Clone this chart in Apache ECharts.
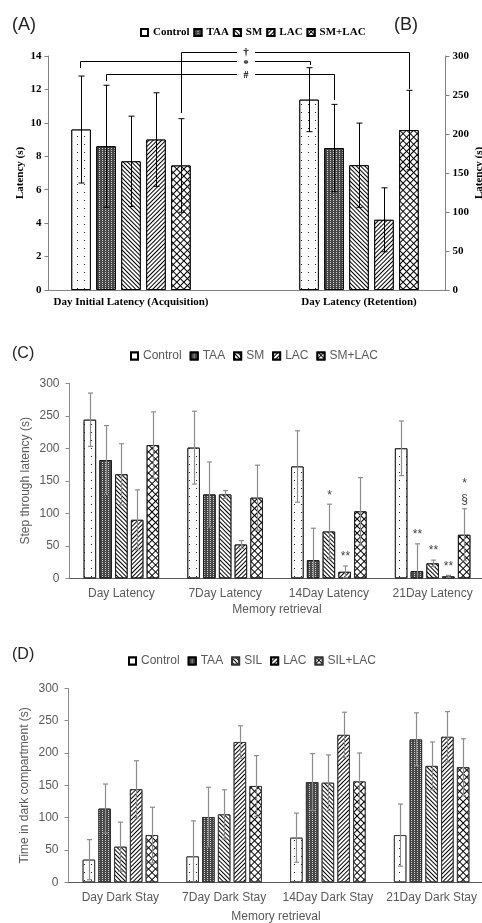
<!DOCTYPE html>
<html>
<head>
<meta charset="utf-8">
<script src="https://cdn.jsdelivr.net/npm/echarts@6/dist/echarts.min.js"></script>
<style>
html, body { margin: 0; padding: 0; background: #fff; }
#chart { width: 482px; height: 923px; }
</style>
</head>
<body>
<div id="chart"></div>
<script>
// group names
var groupNames = ['Control', 'TAA', 'SM', 'LAC', 'SM+LAC'];
var groupNamesD = ['Control', 'TAA', 'SIL', 'LAC', 'SIL+LAC'];

// (A)/(B) acquisition (left axis) and retention (right axis)
var acqCategory = ['Day Initial Latency (Acquisition)'];
var retCategory = ['Day Latency (Retention)'];
var acqMean = [9.6, 8.6, 7.7, 9.0, 7.45];
var acqSd = [3.2, 3.65, 2.7, 2.8, 2.8];
var retMean = [244, 182, 160, 90, 205];
var retSd = [41, 56, 54, 41, 51];

// (C) step through latency, one row per group
var cCats = ['Day Latency', '7Day Latency', '14Day Latency', '21Day Latency'];
var cMeans = [
  [244, 201, 172, 200],
  [182, 129, 28, 11],
  [160, 129, 72, 23],
  [90, 52, 10, 3],
  [205, 124, 103, 67]
];
var cSds = [
  [41, 56, 55, 42],
  [53, 50, 49, 42],
  [47, 6, 42, 5],
  [46, 6, 9, 1.5],
  [51, 50, 52, 40]
];
var cMarks = [
  ['', '', '', ''],
  ['', '', '', '**'],
  ['', '', '*', '**'],
  ['', '', '**', '**'],
  ['', '', '', '*\n§']
];

// (D) time in dark compartment
var dCats = ['Day Dark Stay', '7Day Dark Stay', '14Day Dark Stay', '21Day Dark Stay'];
var dMeans = [
  [35, 40, 69, 73],
  [114, 101, 155, 221],
  [55, 105, 154, 180],
  [144, 217, 228, 225],
  [73, 149, 156, 178]
];
var dSds = [
  [31, 55, 38, 48],
  [38, 46, 44, 41],
  [38, 38, 43, 37],
  [44, 25, 35, 39],
  [43, 47, 44, 44]
];

var SERIF = '"Liberation Serif", "Times New Roman", serif';
var SANS = '"Liberation Sans", Arial, sans-serif';

// fill patterns, one per group
var decals = [
  { symbol: 'rect', symbolSize: 1, color: '#222', backgroundColor: '#fff', dashArrayX: [1, 6], dashArrayY: [1, 7] },
  { symbol: 'rect', symbolSize: 1, color: '#d0d0d0', backgroundColor: '#474747', dashArrayX: [1, 2], dashArrayY: [1, 1] },
  { symbol: 'rect', symbolSize: 1, color: '#000', backgroundColor: '#fff', dashArrayX: [1, 0], dashArrayY: [1, 2], rotation: Math.PI / 4 },
  { symbol: 'rect', symbolSize: 1, color: '#000', backgroundColor: '#fff', dashArrayX: [1, 0], dashArrayY: [1, 2], rotation: -Math.PI / 4 },
  { symbol: 'rect', symbolSize: 1, color: '#fff', backgroundColor: '#000', dashArrayX: [4, 1], dashArrayY: [4, 1], rotation: Math.PI / 4 }
];

function bar(name, xi, yi, values, k, bw, gap, border) {
  return {
    type: 'bar', name: name, xAxisIndex: xi, yAxisIndex: yi, data: values,
    barWidth: bw, barGap: gap, z: 2,
    itemStyle: { color: '#fff', borderColor: border, borderWidth: 1, decal: decals[k] },
    emphasis: { disabled: true }
  };
}

// error bars (mean +/- sd) drawn over the bars
function errBars(xi, yi, means, sds, slot, pitch, cap, color, lw, marks) {
  var data = means.map(function (m, i) { return [i, m, sds[i]]; });
  return {
    type: 'custom', xAxisIndex: xi, yAxisIndex: yi, z: 5, silent: true,
    data: data, encode: { x: 0, y: 1 },
    renderItem: function (params, api) {
      var i = api.value(0), m = api.value(1), sd = api.value(2);
      var x = Math.round(api.coord([i, m])[0] + (slot - 2) * pitch) + 0.5;
      var yTop = api.coord([i, m + sd])[1];
      var low = m - sd;
      var yLow = api.coord([i, Math.max(0, low)])[1];
      var st = { stroke: color, lineWidth: lw };
      var kids = [
        { type: 'line', shape: { x1: x, y1: yTop, x2: x, y2: yLow }, style: st },
        { type: 'line', shape: { x1: x - cap, y1: yTop, x2: x + cap, y2: yTop }, style: st }
      ];
      if (low > 0) {
        kids.push({ type: 'line', shape: { x1: x - cap, y1: yLow, x2: x + cap, y2: yLow }, style: st });
      }
      var mk = marks ? marks[params.dataIndex] : '';
      if (mk) {
        kids.push({
          type: 'text', x: x, y: yTop - 1,
          style: { text: mk, align: 'center', verticalAlign: 'bottom', font: '12px ' + SANS, fill: '#404040', lineHeight: 16 }
        });
      }
      return { type: 'group', children: kids };
    }
  };
}

var series = [];
// panel A/B: grid 1 (acquisition), grid 2 (retention)
for (var k = 0; k < 5; k++) {
  series.push(bar(groupNames[k], 1, 2, [acqMean[k]], k, 19.5, '28%', '#000'));
  series.push(bar(groupNames[k], 2, 3, [retMean[k]], k, 19.5, '28%', '#000'));
}
for (var k = 0; k < 5; k++) {
  series.push(errBars(1, 2, [acqMean[k]], [acqSd[k]], k, 25, 3, '#000', 1, null));
  series.push(errBars(2, 3, [retMean[k]], [retSd[k]], k, 25, 3, '#000', 1, null));
}
// panel C: grid 3, panel D: grid 4
for (var k = 0; k < 5; k++) {
  series.push(bar(groupNames[k], 3, 4, cMeans[k], k, 12.5, '26%', '#1a1a1a'));
  series.push(bar(groupNamesD[k], 4, 5, dMeans[k], k, 12.5, '26%', '#333'));
}
for (var k = 0; k < 5; k++) {
  series.push(errBars(3, 4, cMeans[k], cSds[k], k, 15.8, 2.5, '#8c8c8c', 1.2, cMarks[k]));
  series.push(errBars(4, 5, dMeans[k], dSds[k], k, 15.8, 2.5, '#8c8c8c', 1.2, null));
}

var boldSerif = { fontFamily: SERIF, fontWeight: 'bold', fontSize: 11, color: '#000' };
var sans = { fontFamily: SANS, fontSize: 12, color: '#595959' };

function valueAxisA(pos, max, step, gap) {
  return {
    type: 'value', gridIndex: 0, position: pos, min: 0, max: max, interval: step,
    axisLine: { show: true, lineStyle: { color: '#808080', width: 1 } },
    axisTick: { show: true, inside: false, length: 4, lineStyle: { color: '#808080' } },
    axisLabel: Object.assign({ margin: 7 }, boldSerif),
    splitLine: { show: false },
    name: 'Latency (s)', nameLocation: 'middle', nameGap: gap, nameRotate: 90,
    nameMoveOverlap: false,
    nameTextStyle: boldSerif
  };
}

function valueAxisCD(grid, name) {
  return {
    type: 'value', gridIndex: grid, min: 0, max: 300, interval: 50,
    axisLine: { show: true, lineStyle: { color: '#8c8c8c', width: 1 } },
    axisTick: { show: true, inside: false, length: 4, lineStyle: { color: '#8c8c8c' } },
    axisLabel: Object.assign({ margin: 10 }, sans),
    splitLine: { show: false },
    name: name, nameLocation: 'middle', nameGap: 38, nameRotate: 90,
    nameMoveOverlap: false,
    nameTextStyle: sans
  };
}

function catAxisCD(grid, cats, gap) {
  return {
    type: 'category', gridIndex: grid, data: cats,
    axisLine: { show: true, lineStyle: { color: '#595959', width: 1 } },
    axisTick: { show: false },
    axisLabel: Object.assign({ margin: 9, interval: 0 }, sans),
    name: 'Memory retrieval', nameLocation: 'middle', nameGap: gap,
    nameMoveOverlap: false,
    nameTextStyle: sans
  };
}

function hiddenY(grid, max) {
  return { type: 'value', gridIndex: grid, min: 0, max: max, show: false };
}

var legendBase = {
  icon: 'rect', itemWidth: 7, itemHeight: 7, padding: 0, selectedMode: false
};

var option = {
  animation: false,
  backgroundColor: '#fff',
  title: [
    { text: '(A)', left: 12, top: 16, padding: 0, textStyle: { fontFamily: SANS, fontSize: 18, fontWeight: 'normal', color: '#222' } },
    { text: '(B)', left: 394, top: 16, padding: 0, textStyle: { fontFamily: SANS, fontSize: 18, fontWeight: 'normal', color: '#222' } },
    { text: '(C)', left: 12, top: 346, padding: 0, textStyle: { fontFamily: SANS, fontSize: 16, fontWeight: 'normal', color: '#222' } },
    { text: '(D)', left: 12, top: 647, padding: 0, textStyle: { fontFamily: SANS, fontSize: 16, fontWeight: 'normal', color: '#222' } }
  ],
  legend: [
    Object.assign({ data: groupNames, left: 140, top: 27, itemGap: 4, textStyle: boldSerif }, legendBase),
    Object.assign({ data: groupNames, left: 130, top: 350, itemGap: 8, textStyle: sans }, legendBase),
    Object.assign({ data: groupNamesD, left: 128, top: 655, itemGap: 8, textStyle: sans }, legendBase)
  ],
  grid: [
    { left: 48.5, top: 56, width: 397, height: 234, outerBoundsMode: 'none', containLabel: false },
    { left: 17, top: 56, width: 228, height: 234, outerBoundsMode: 'none', containLabel: false },
    { left: 245, top: 56, width: 228, height: 234, outerBoundsMode: 'none', containLabel: false },
    { left: 69.5, top: 383.3, width: 415, height: 195, outerBoundsMode: 'none', containLabel: false },
    { left: 68.5, top: 688.3, width: 415, height: 194, outerBoundsMode: 'none', containLabel: false }
  ],
  xAxis: [
    { type: 'category', gridIndex: 0, data: [''], axisLine: { show: true, lineStyle: { color: '#808080' } }, axisTick: { show: false }, axisLabel: { show: false } },
    { type: 'category', gridIndex: 1, data: acqCategory, axisLine: { show: false }, axisTick: { show: false }, axisLabel: Object.assign({ margin: 7 }, boldSerif) },
    { type: 'category', gridIndex: 2, data: retCategory, axisLine: { show: false }, axisTick: { show: false }, axisLabel: Object.assign({ margin: 7 }, boldSerif) },
    catAxisCD(3, cCats, 25),
    catAxisCD(4, dCats, 28)
  ],
  yAxis: [
    valueAxisA('left', 14, 2, 23),
    valueAxisA('right', 300, 50, 28),
    hiddenY(1, 14),
    hiddenY(2, 300),
    valueAxisCD(3, 'Step through latency (s)'),
    valueAxisCD(4, 'Time in dark compartment (s)')
  ],
  // significance brackets between acquisition and retention groups
  graphic: [
    { type: 'polyline', shape: { points: [[181.5, 113], [181.5, 52.5], [237, 52.5]] }, style: { stroke: '#000', fill: null, lineWidth: 1 } },
    { type: 'polyline', shape: { points: [[255, 52.5], [409.5, 52.5], [409.5, 89]] }, style: { stroke: '#000', fill: null, lineWidth: 1 } },
    { type: 'polyline', shape: { points: [[80.5, 68], [80.5, 61.5], [237, 61.5]] }, style: { stroke: '#000', fill: null, lineWidth: 1 } },
    { type: 'polyline', shape: { points: [[255, 61.5], [310.5, 61.5], [310.5, 65]] }, style: { stroke: '#000', fill: null, lineWidth: 1 } },
    { type: 'polyline', shape: { points: [[106.5, 81], [106.5, 74.5], [237, 74.5]] }, style: { stroke: '#000', fill: null, lineWidth: 1 } },
    { type: 'polyline', shape: { points: [[255, 74.5], [334.5, 74.5], [334.5, 100]] }, style: { stroke: '#000', fill: null, lineWidth: 1 } },
    { type: 'text', x: 246, y: 52, style: { text: '†', align: 'center', verticalAlign: 'middle', font: 'bold 11px ' + SERIF, fill: '#000' } },
    { type: 'text', x: 246, y: 64, style: { text: '*', align: 'center', verticalAlign: 'middle', font: 'bold 11px ' + SERIF, fill: '#000' } },
    { type: 'text', x: 246, y: 75, style: { text: '#', align: 'center', verticalAlign: 'middle', font: 'bold 10px ' + SERIF, fill: '#000' } }
  ],
  series: series
};

var chart = echarts.init(document.getElementById('chart'), null, { renderer: 'canvas' });
chart.setOption(option);
window.addEventListener('resize', function () { chart.resize(); });
</script>
</body>
</html>
